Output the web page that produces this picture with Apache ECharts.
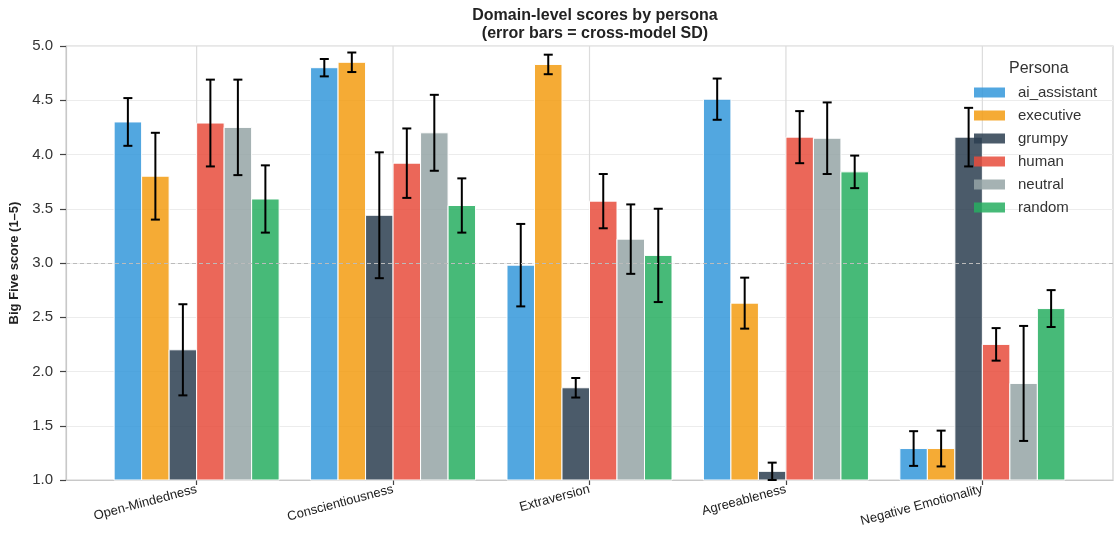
<!DOCTYPE html>
<html>
<head>
<meta charset="utf-8">
<script src="https://cdn.jsdelivr.net/npm/echarts@6/dist/echarts.min.js"></script>
<style>
  html, body { margin: 0; padding: 0; background: #fff; }
  #chart { width: 1115px; height: 535px; }
</style>
</head>
<body>
<div id="chart"></div>
<script>
const domains = ['Open-Mindedness', 'Conscientiousness', 'Extraversion', 'Agreeableness', 'Negative Emotionality'];
const personas = ['ai_assistant', 'executive', 'grumpy', 'human', 'neutral', 'random'];
const colors = ['rgba(52,152,219,0.85)', 'rgba(243,156,18,0.85)', 'rgba(44,62,80,0.85)', 'rgba(231,76,60,0.85)', 'rgba(149,165,166,0.85)', 'rgba(39,174,96,0.85)'];

// mean score per persona, in domain order
const aiAssistant = [4.30, 4.80, 2.98, 4.51, 1.29];
const executive   = [3.80, 4.85, 4.83, 2.63, 1.29];
const grumpy      = [2.20, 3.44, 1.85, 1.08, 4.16];
const human       = [4.29, 3.92, 3.57, 4.16, 2.25];
const neutral     = [4.25, 4.20, 3.22, 4.15, 1.89];
const random      = [3.59, 3.53, 3.07, 3.84, 2.58];

// cross-model SD
const aiAssistantSd = [0.22, 0.08, 0.38, 0.19, 0.16];
const executiveSd   = [0.40, 0.09, 0.09, 0.235, 0.165];
const grumpySd      = [0.42, 0.58, 0.09, 0.08, 0.27];
const humanSd       = [0.40, 0.32, 0.25, 0.24, 0.15];
const neutralSd     = [0.44, 0.35, 0.32, 0.33, 0.53];
const randomSd      = [0.31, 0.25, 0.43, 0.15, 0.17];

const yTicks = [1.0, 1.5, 2.0, 2.5, 3.0, 3.5, 4.0, 4.5, 5.0];

const means = [aiAssistant, executive, grumpy, human, neutral, random];
const sds = [aiAssistantSd, executiveSd, grumpySd, humanSd, neutralSd, randomSd];
const barW = 0.14;
const font = 'Liberation Sans, Arial, sans-serif';

const chart = echarts.init(document.getElementById('chart'));

const barSeries = personas.map((name, j) => ({
  type: 'custom',
  name: name,
  z: 3,
  itemStyle: { color: colors[j] },
  data: domains.map((d, i) => [i, means[j][i], sds[j][i]]),
  renderItem: (params, api) => {
    const cx = api.value(0) + (j - 2.5) * barW;
    const tl = api.coord([cx - barW / 2, api.value(1)]);
    const br = api.coord([cx + barW / 2, 1]);
    const top = api.coord([cx, api.value(1) + api.value(2)]);
    const bot = api.coord([cx, api.value(1) - api.value(2)]);
    const cap = 4.5;
    const err = { stroke: '#000', lineWidth: 2 };
    return {
      type: 'group',
      children: [
        { type: 'rect', shape: { x: tl[0], y: tl[1], width: br[0] - tl[0], height: br[1] - tl[1] },
          style: { fill: colors[j], stroke: '#fff', lineWidth: 1 } },
        { type: 'line', z2: 10, shape: { x1: top[0], y1: top[1], x2: bot[0], y2: bot[1] }, style: err },
        { type: 'line', z2: 10, shape: { x1: top[0] - cap, y1: top[1], x2: top[0] + cap, y2: top[1] }, style: err },
        { type: 'line', z2: 10, shape: { x1: bot[0] - cap, y1: bot[1], x2: bot[0] + cap, y2: bot[1] }, style: err }
      ]
    };
  }
}));

// vertical guide lines at each domain + reference line at 3.0
const guideSeries = {
  type: 'custom',
  name: 'guides',
  z: 1,
  silent: true,
  data: domains.map((d, i) => [i]),
  renderItem: (params, api) => {
    const a = api.coord([api.value(0), 5]);
    const b = api.coord([api.value(0), 1]);
    return { type: 'line', shape: { x1: a[0], y1: a[1], x2: b[0], y2: b[1] }, style: { stroke: '#dcdcdc', lineWidth: 1.2 } };
  },
  markLine: {
    silent: true,
    symbol: 'none',
    label: { show: false },
    lineStyle: { color: '#bbb', type: [4, 3], width: 1 },
    data: [{ yAxis: 3 }]
  }
};

chart.setOption({
  animation: false,
  backgroundColor: '#fff',
  textStyle: { fontFamily: font },
  title: [
    { text: 'Domain-level scores by persona\n(error bars = cross-model SD)', left: 590, top: 2, textAlign: 'center',
      textStyle: { fontSize: 16, fontWeight: 'bold', color: '#222', lineHeight: 18, fontFamily: font } },
    { text: 'Persona', left: 1004, top: 56, textStyle: { fontSize: 16, fontWeight: 'normal', color: '#333', fontFamily: font } }
  ],
  legend: {
    data: personas,
    orient: 'vertical',
    left: 969,
    top: 80,
    icon: 'rect',
    itemWidth: 31,
    itemHeight: 10,
    itemGap: 8,
    textStyle: { fontSize: 15, color: '#333', fontFamily: font, padding: [0, 0, 0, 8] }
  },
  grid: { left: 66, right: 2, top: 46, bottom: 55, show: true, borderColor: '#d0d0d0', borderWidth: 1.2 },
  xAxis: {
    type: 'value',
    min: -0.665,
    max: 4.665,
    axisLine: { show: true, onZero: false, lineStyle: { color: '#c8c8c8', width: 1.2 } },
    axisTick: { show: true, customValues: [0, 1, 2, 3, 4], length: 5, lineStyle: { color: '#444', width: 1.2 } },
    axisLabel: { customValues: [0, 1, 2, 3, 4], formatter: v => domains[Math.round(v)], rotate: 15, fontSize: 13, color: '#222', margin: 9 },
    splitLine: { show: false }
  },
  yAxis: {
    type: 'value',
    min: 1,
    max: 5,
    interval: 0.5,
    name: 'Big Five score (1–5)',
    nameLocation: 'middle',
    nameGap: 42,
    nameTextStyle: { fontSize: 13, fontWeight: 'bold', color: '#222' },
    axisLine: { show: true, onZero: false, lineStyle: { color: '#c8c8c8', width: 1.2 } },
    axisTick: { show: true, length: 6, lineStyle: { color: '#444', width: 1.2 } },
    axisLabel: { formatter: v => yTicks.includes(v) ? v.toFixed(1) : '', fontSize: 15, color: '#333', margin: 13 },
    splitLine: { lineStyle: { color: '#ececec', width: 1 } }
  },
  series: [guideSeries].concat(barSeries)
});
</script>
</body>
</html>
